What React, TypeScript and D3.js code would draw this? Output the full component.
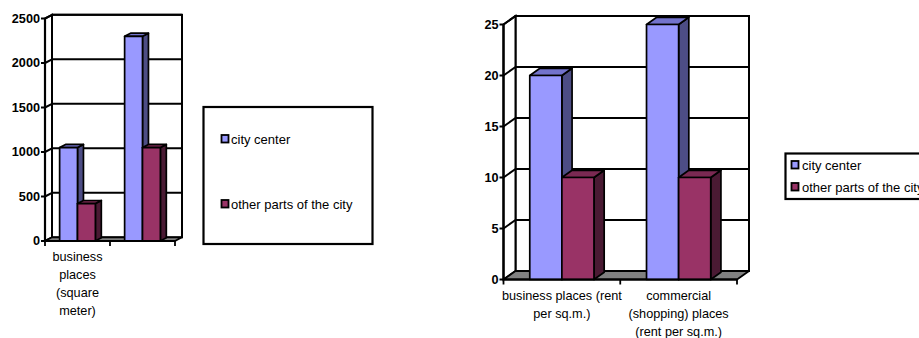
import React from 'react';
import * as d3 from 'd3';

const seriesNames = ['city center', 'other parts of the city'];

const leftCategories = ['business\nplaces\n(square\nmeter)', ''];
const leftCityCenter = [1050, 2300];
const leftOtherParts = [420, 1050];
const leftTicks = [0, 500, 1000, 1500, 2000, 2500];

const rightCategories = ['business places (rent\nper sq.m.)', 'commercial\n(shopping) places\n(rent per sq.m.)'];
const rightCityCenter = [20, 25];
const rightOtherParts = [10, 10];
const rightTicks = [0, 5, 10, 15, 20, 25];

const COLORS = [
  { front: '#9999FF', top: '#7373CC', side: '#4D4D85' },
  { front: '#993366', top: '#7A2952', side: '#4A1A33' },
];
const FONT = 'Liberation Sans, Arial, sans-serif';

type ChartProps = {
  cats: string[];
  series: number[][];
  ticks: number[];
  x0: number; x1: number; y0: number; yTop: number; dx: number; dy: number;
};

function Chart3D({ cats, series, ticks, x0, x1, y0, yTop, dx, dy }: ChartProps) {
  const y = d3.scaleLinear().domain([0, d3.max(ticks) as number]).range([y0, yTop]);
  const xc = d3.scaleBand<string>().domain(cats.map((_, i) => String(i))).range([x0, x1]);
  const bw = xc.bandwidth();
  const gap = bw * 0.225;
  const xs = d3.scaleBand<string>().domain(seriesNames).range([gap, bw - gap]);
  const w = xs.bandwidth();
  const bd = 0.85;
  const bx = dx * bd, by = dy * bd;
  const pts = (p: number[][]) => p.map(q => q.join(',')).join(' ');
  const boundaries = [x0, ...cats.map((_, i) => (xc(String(i)) as number) + bw)];

  return (
    <g>
      <rect x={x0 + dx} y={yTop + dy} width={x1 - x0} height={y0 - yTop} fill="#fff" stroke="#000" strokeWidth={2} />
      <polygon points={pts([[x0, y0], [x0, yTop], [x0 + dx, yTop + dy], [x0 + dx, y0 + dy]])} fill="#fff" stroke="#000" strokeWidth={2} />
      {ticks.filter(t => t > 0).map(t => (
        <g key={t}>
          <line x1={x0 + dx} x2={x1 + dx} y1={y(t) + dy} y2={y(t) + dy} stroke="#000" strokeWidth={2} />
          <line x1={x0} x2={x0 + dx} y1={y(t)} y2={y(t) + dy} stroke="#000" strokeWidth={2} />
        </g>
      ))}
      <polygon points={pts([[x0, y0], [x1, y0], [x1 + dx, y0 + dy], [x0 + dx, y0 + dy]])} fill="#808080" stroke="#000" strokeWidth={1.8} strokeLinejoin="round" />
      {cats.map((_, i) => series.map((vals, j) => {
        const xf = (xc(String(i)) as number) + (xs(seriesNames[j]) as number);
        const top = y(vals[i]);
        const c = COLORS[j];
        return (
          <g key={`${i}-${j}`} stroke="#000" strokeWidth={1.7} strokeLinejoin="round">
            <polygon points={pts([[xf + w, top], [xf + w + bx, top + by], [xf + w + bx, y0 + by], [xf + w, y0]])} fill={c.side} />
            <polygon points={pts([[xf, top], [xf + w, top], [xf + w + bx, top + by], [xf + bx, top + by]])} fill={c.top} />
            <rect x={xf} y={top} width={w} height={y0 - top} fill={c.front} />
          </g>
        );
      }))}
      <line x1={x0} x2={x0} y1={y0} y2={yTop} stroke="#000" strokeWidth={2.2} />
      {ticks.map(t => (
        <g key={t}>
          <line x1={x0 - 4} x2={x0} y1={y(t)} y2={y(t)} stroke="#000" strokeWidth={2} />
          <text x={x0 - 5} y={y(t)} textAnchor="end" dominantBaseline="central" fontFamily={FONT} fontWeight="bold" fontSize={12.7} fill="#000">{t}</text>
        </g>
      ))}
      <line x1={x0} x2={x1} y1={y0} y2={y0} stroke="#000" strokeWidth={2.2} />
      {boundaries.map((b, k) => (
        <line key={k} x1={b} x2={b} y1={y0} y2={y0 + 5} stroke="#000" strokeWidth={1.8} />
      ))}
      {cats.map((c, i) => (
        <text key={i} x={(xc(String(i)) as number) + bw / 2} y={y0 + 16} textAnchor="middle" fontFamily={FONT} fontSize={12.7} fill="#000">
          {c.split('\n').map((line, k) => (
            <tspan key={k} x={(xc(String(i)) as number) + bw / 2} dy={k === 0 ? 0 : 18} dominantBaseline="central">{line}</tspan>
          ))}
        </text>
      ))}
    </g>
  );
}

type LegendProps = { x: number; y: number; width: number; height: number; itemYs: number[]; sqX: number; textX: number; strokeW: number };

function Legend({ x, y, width, height, itemYs, sqX, textX, strokeW }: LegendProps) {
  return (
    <g>
      <rect x={x} y={y} width={width} height={height} fill="#fff" stroke="#000" strokeWidth={strokeW} />
      {seriesNames.map((s, i) => (
        <g key={s}>
          <rect x={sqX} y={itemYs[i] - 4} width={7} height={7.5} fill={COLORS[i].front} stroke="#000" strokeWidth={1.8} />
          <text x={textX} y={itemYs[i]} dominantBaseline="central" fontFamily={FONT} fontSize={13} fill="#000">{s}</text>
        </g>
      ))}
    </g>
  );
}

export default function App() {
  return (
    <svg width={919} height={338} style={{ position: 'absolute', left: 0, top: 0, background: '#fff' }}>
      <rect width={919} height={338} fill="#fff" />
      <Chart3D cats={leftCategories} series={[leftCityCenter, leftOtherParts]} ticks={leftTicks}
        x0={45} x1={175} y0={241} yTop={18.5} dx={7} dy={-3.7} />
      <Legend x={203.5} y={107} width={169} height={137} itemYs={[139, 204]} sqX={221.5} textX={231} strokeW={2.2} />
      <Chart3D cats={rightCategories} series={[rightCityCenter, rightOtherParts]} ticks={rightTicks}
        x0={503.5} x1={737} y0={279.5} yTop={24.5} dx={12} dy={-8.5} />
      <Legend x={785.5} y={153.5} width={150} height={45.5} itemYs={[165, 187]} sqX={791.5} textX={802} strokeW={2.2} />
    </svg>
  );
}
